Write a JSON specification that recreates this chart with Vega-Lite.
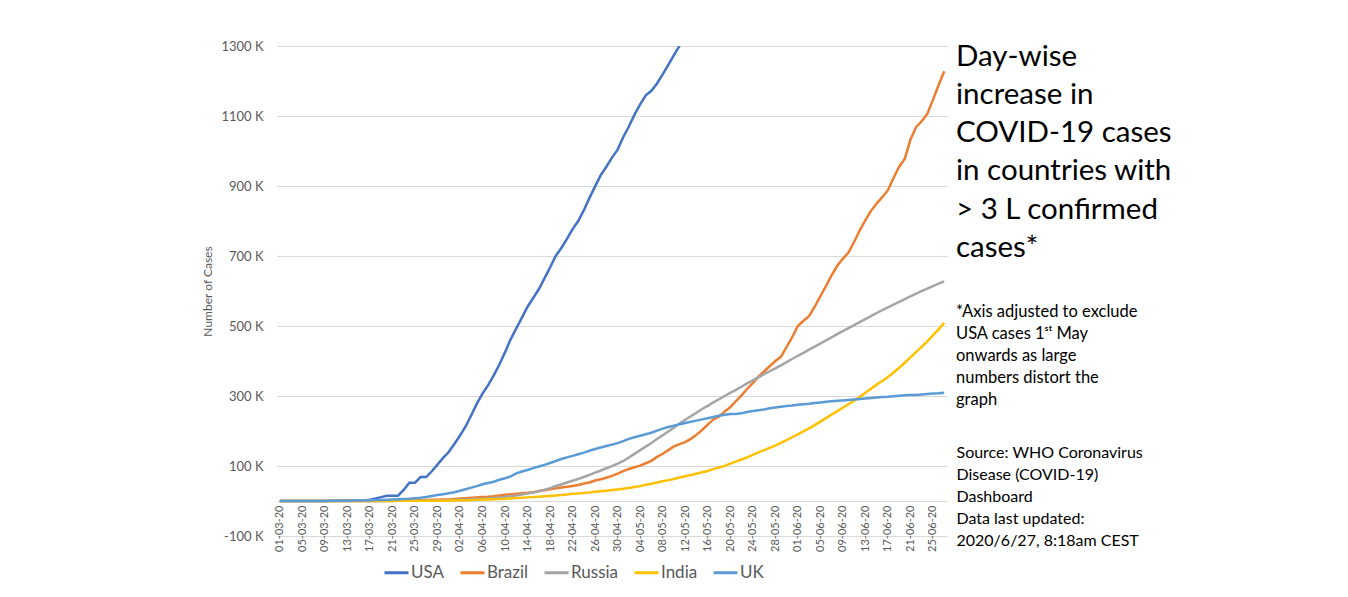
{
  "$schema": "https://vega.github.io/schema/vega-lite/v6.json",
  "autosize": {"type": "none"},
  "width": 670,
  "height": 490,
  "padding": {"left": 277, "top": 46, "right": 401, "bottom": 61},
  "background": "white",
  "config": {
    "view": {"stroke": null},
    "font": "Lato",
    "axis": {"labelFont": "Lato", "titleFont": "Lato"},
    "legend": {"labelFont": "Lato"},
    "title": {"font": "Lato", "subtitleFont": "Lato"}
  },
  "title": {
    "text": ["Day-wise", "increase in", "COVID-19 cases", "in countries with", "> 3 L confirmed", "cases*"],
    "subtitle": ["*Axis adjusted to exclude", "USA cases 1ˢᵗ May", "onwards as  large", "numbers distort the", "graph"],
    "orient": "top",
    "anchor": "start",
    "frame": "group",
    "dx": 679,
    "dy": 373,
    "fontSize": 29.5,
    "fontWeight": "normal",
    "color": "#000000",
    "lineHeight": 38.3,
    "subtitleFontSize": 16.5,
    "subtitleLineHeight": 22,
    "subtitleColor": "#000000",
    "subtitlePadding": 40
  },
  "data": {
    "values": [
      {"d":"01-03-20","USA":0.07,"Brazil":0,"Russia":0,"India":0.003,"UK":0.04},
      {"d":"02-03-20","USA":0.07,"Brazil":0,"Russia":0,"India":0.005,"UK":0.04},
      {"d":"03-03-20","USA":0.07,"Brazil":0,"Russia":0,"India":0.005,"UK":0.05},
      {"d":"04-03-20","USA":0.1,"Brazil":0,"Russia":0,"India":0.028,"UK":0.09},
      {"d":"05-03-20","USA":0.13,"Brazil":0,"Russia":0,"India":0.03,"UK":0.12},
      {"d":"06-03-20","USA":0.15,"Brazil":0.01,"Russia":0,"India":0.03,"UK":0.16},
      {"d":"07-03-20","USA":0.21,"Brazil":0.01,"Russia":0,"India":0.031,"UK":0.21},
      {"d":"08-03-20","USA":0.21,"Brazil":0.01,"Russia":0,"India":0.034,"UK":0.27},
      {"d":"09-03-20","USA":0.21,"Brazil":0.02,"Russia":0.01,"India":0.039,"UK":0.32},
      {"d":"10-03-20","USA":0.47,"Brazil":0.03,"Russia":0.01,"India":0.043,"UK":0.38},
      {"d":"11-03-20","USA":0.7,"Brazil":0.03,"Russia":0.02,"India":0.056,"UK":0.46},
      {"d":"12-03-20","USA":1.0,"Brazil":0.05,"Russia":0.03,"India":0.062,"UK":0.6},
      {"d":"13-03-20","USA":1.3,"Brazil":0.08,"Russia":0.03,"India":0.073,"UK":0.8},
      {"d":"14-03-20","USA":1.7,"Brazil":0.1,"Russia":0.05,"India":0.082,"UK":1.1},
      {"d":"15-03-20","USA":1.7,"Brazil":0.12,"Russia":0.06,"India":0.1,"UK":1.1},
      {"d":"16-03-20","USA":1.7,"Brazil":0.2,"Russia":0.09,"India":0.11,"UK":1.4},
      {"d":"17-03-20","USA":3.5,"Brazil":0.23,"Russia":0.11,"India":0.125,"UK":1.9},
      {"d":"18-03-20","USA":7,"Brazil":0.29,"Russia":0.15,"India":0.137,"UK":2.6},
      {"d":"19-03-20","USA":11,"Brazil":0.43,"Russia":0.2,"India":0.173,"UK":2.6},
      {"d":"20-03-20","USA":15.2,"Brazil":0.62,"Russia":0.25,"India":0.223,"UK":3.3},
      {"d":"21-03-20","USA":15.2,"Brazil":0.9,"Russia":0.31,"India":0.283,"UK":4.0},
      {"d":"22-03-20","USA":15.2,"Brazil":1.1,"Russia":0.37,"India":0.36,"UK":5.0},
      {"d":"23-03-20","USA":31.6,"Brazil":1.5,"Russia":0.44,"India":0.415,"UK":5.7},
      {"d":"24-03-20","USA":52,"Brazil":1.9,"Russia":0.5,"India":0.468,"UK":6.7},
      {"d":"25-03-20","USA":52,"Brazil":2.2,"Russia":0.66,"India":0.536,"UK":8.1},
      {"d":"26-03-20","USA":68.5,"Brazil":2.4,"Russia":0.84,"India":0.657,"UK":9.5},
      {"d":"27-03-20","USA":68.5,"Brazil":2.9,"Russia":1.04,"India":0.727,"UK":11.7},
      {"d":"28-03-20","USA":85,"Brazil":3.4,"Russia":1.26,"India":0.887,"UK":14.5},
      {"d":"29-03-20","USA":104,"Brazil":3.9,"Russia":1.53,"India":0.987,"UK":17.1},
      {"d":"30-03-20","USA":123,"Brazil":4.3,"Russia":1.84,"India":1.024,"UK":19.5},
      {"d":"31-03-20","USA":140,"Brazil":4.6,"Russia":2.34,"India":1.251,"UK":22.1},
      {"d":"01-04-20","USA":163,"Brazil":5.7,"Russia":2.78,"India":1.397,"UK":25.2},
      {"d":"02-04-20","USA":187,"Brazil":6.8,"Russia":3.55,"India":1.965,"UK":29.5},
      {"d":"03-04-20","USA":213,"Brazil":7.9,"Russia":4.15,"India":2.301,"UK":33.7},
      {"d":"04-04-20","USA":245,"Brazil":9.1,"Russia":4.73,"India":2.902,"UK":38.2},
      {"d":"05-04-20","USA":278,"Brazil":10.3,"Russia":5.39,"India":3.374,"UK":42.5},
      {"d":"06-04-20","USA":307,"Brazil":11.1,"Russia":6.34,"India":4.067,"UK":47.8},
      {"d":"07-04-20","USA":331,"Brazil":12.0,"Russia":7.5,"India":4.421,"UK":51.6},
      {"d":"08-04-20","USA":359,"Brazil":13.7,"Russia":8.67,"India":5.194,"UK":55.2},
      {"d":"09-04-20","USA":390,"Brazil":15.9,"Russia":10.1,"India":5.734,"UK":60.7},
      {"d":"10-04-20","USA":425,"Brazil":17.9,"Russia":11.9,"India":6.412,"UK":65.1},
      {"d":"11-04-20","USA":462,"Brazil":19.6,"Russia":13.6,"India":7.447,"UK":70.3},
      {"d":"12-04-20","USA":493,"Brazil":20.7,"Russia":15.8,"India":8.356,"UK":78.9},
      {"d":"13-04-20","USA":524,"Brazil":22.2,"Russia":18.3,"India":9.152,"UK":84.3},
      {"d":"14-04-20","USA":555,"Brazil":23.4,"Russia":21.1,"India":10.363,"UK":88.6},
      {"d":"15-04-20","USA":580,"Brazil":25.3,"Russia":24.5,"India":11.439,"UK":93.9},
      {"d":"16-04-20","USA":605,"Brazil":28.3,"Russia":27.9,"India":12.38,"UK":98.5},
      {"d":"17-04-20","USA":636,"Brazil":30.4,"Russia":32.0,"India":13.387,"UK":103.1},
      {"d":"18-04-20","USA":667,"Brazil":33.7,"Russia":36.8,"India":14.378,"UK":108.7},
      {"d":"19-04-20","USA":700,"Brazil":36.6,"Russia":42.9,"India":15.712,"UK":114.2},
      {"d":"20-04-20","USA":723,"Brazil":38.6,"Russia":47.1,"India":17.265,"UK":120.1},
      {"d":"21-04-20","USA":749,"Brazil":40.6,"Russia":52.8,"India":18.6,"UK":124.7},
      {"d":"22-04-20","USA":777,"Brazil":43.1,"Russia":57.9,"India":20.471,"UK":129.0},
      {"d":"23-04-20","USA":800,"Brazil":45.8,"Russia":62.8,"India":21.7,"UK":133.5},
      {"d":"24-04-20","USA":831,"Brazil":50.0,"Russia":68.6,"India":23.077,"UK":138.1},
      {"d":"25-04-20","USA":866,"Brazil":52.9,"Russia":74.6,"India":24.506,"UK":143.5},
      {"d":"26-04-20","USA":899,"Brazil":58.5,"Russia":80.9,"India":26.496,"UK":148.4},
      {"d":"27-04-20","USA":931,"Brazil":61.9,"Russia":87.1,"India":27.892,"UK":152.8},
      {"d":"28-04-20","USA":955,"Brazil":66.5,"Russia":93.6,"India":29.435,"UK":157.1},
      {"d":"29-04-20","USA":981,"Brazil":71.9,"Russia":99.4,"India":31.332,"UK":161.1},
      {"d":"30-04-20","USA":1004,"Brazil":78.2,"Russia":106.5,"India":33.05,"UK":165.2},
      {"d":"01-05-20","USA":1040,"Brazil":85.4,"Russia":114.4,"India":35.043,"UK":171.3},
      {"d":"02-05-20","USA":1070,"Brazil":91.6,"Russia":124.1,"India":37.336,"UK":177.5},
      {"d":"03-05-20","USA":1104,"Brazil":96.6,"Russia":134.7,"India":39.98,"UK":182.3},
      {"d":"04-05-20","USA":1133,"Brazil":101.1,"Russia":145.3,"India":42.533,"UK":186.6},
      {"d":"05-05-20","USA":1159,"Brazil":107.8,"Russia":155.4,"India":46.433,"UK":190.6},
      {"d":"06-05-20","USA":1172,"Brazil":114.7,"Russia":165.9,"India":49.391,"UK":194.9},
      {"d":"07-05-20","USA":1193,"Brazil":126.0,"Russia":177.2,"India":52.952,"UK":201.1},
      {"d":"08-05-20","USA":1219,"Brazil":135.1,"Russia":187.9,"India":56.342,"UK":206.7},
      {"d":"09-05-20","USA":1246,"Brazil":145.3,"Russia":198.7,"India":59.662,"UK":211.4},
      {"d":"10-05-20","USA":1274,"Brazil":155.9,"Russia":209.7,"India":62.939,"UK":215.3},
      {"d":"11-05-20","USA":1301,"Brazil":162.7,"Russia":221.3,"India":67.152,"UK":219.2},
      {"d":"12-05-20","USA":1323,"Brazil":168.3,"Russia":232.2,"India":70.756,"UK":223.1},
      {"d":"13-05-20","USA":1347,"Brazil":177.6,"Russia":242.3,"India":74.281,"UK":226.5},
      {"d":"14-05-20","Brazil":188.9,"Russia":252.2,"India":78.003,"UK":229.7},
      {"d":"15-05-20","Brazil":202.9,"Russia":262.8,"India":81.97,"UK":233.2},
      {"d":"16-05-20","Brazil":218.2,"Russia":272.0,"India":85.94,"UK":236.7},
      {"d":"17-05-20","Brazil":233.1,"Russia":281.8,"India":90.927,"UK":240.2},
      {"d":"18-05-20","Brazil":241.1,"Russia":290.7,"India":95.698,"UK":243.3},
      {"d":"19-05-20","Brazil":255.4,"Russia":299.9,"India":100.328,"UK":246.4},
      {"d":"20-05-20","Brazil":268,"Russia":308.7,"India":106.75,"UK":248.8},
      {"d":"21-05-20","Brazil":285,"Russia":317.6,"India":112.359,"UK":248.3},
      {"d":"22-05-20","Brazil":302,"Russia":326.4,"India":118.447,"UK":250.9},
      {"d":"23-05-20","Brazil":320,"Russia":335.9,"India":124.794,"UK":254.2},
      {"d":"24-05-20","Brazil":337,"Russia":344.5,"India":131.868,"UK":257.2},
      {"d":"25-05-20","Brazil":355,"Russia":353.4,"India":138.845,"UK":259.6},
      {"d":"26-05-20","Brazil":370,"Russia":362.3,"India":145.38,"UK":261.2},
      {"d":"27-05-20","Brazil":385,"Russia":370.7,"India":151.767,"UK":265.2},
      {"d":"28-05-20","Brazil":400,"Russia":379.1,"India":158.333,"UK":267.2},
      {"d":"29-05-20","Brazil":412,"Russia":387.6,"India":165.799,"UK":269.1},
      {"d":"30-05-20","Brazil":440,"Russia":396.6,"India":173.763,"UK":271.2},
      {"d":"31-05-20","Brazil":468,"Russia":405.8,"India":182.143,"UK":272.8},
      {"d":"01-06-20","Brazil":500,"Russia":414.9,"India":190.535,"UK":274.8},
      {"d":"02-06-20","Brazil":515,"Russia":423.2,"India":198.706,"UK":276.3},
      {"d":"03-06-20","Brazil":528,"Russia":432.3,"India":207.615,"UK":277.9},
      {"d":"04-06-20","Brazil":555,"Russia":441.1,"India":216.919,"UK":279.9},
      {"d":"05-06-20","Brazil":585,"Russia":449.8,"India":226.77,"UK":281.7},
      {"d":"06-06-20","Brazil":614,"Russia":458.7,"India":236.657,"UK":283.3},
      {"d":"07-06-20","Brazil":645,"Russia":467.7,"India":246.628,"UK":284.9},
      {"d":"08-06-20","Brazil":672,"Russia":476.7,"India":256.611,"UK":286.2},
      {"d":"09-06-20","Brazil":692,"Russia":485.3,"India":266.598,"UK":287.4},
      {"d":"10-06-20","Brazil":710,"Russia":493.7,"India":276.583,"UK":288.8},
      {"d":"11-06-20","Brazil":740,"Russia":502.4,"India":286.579,"UK":290.1},
      {"d":"12-06-20","Brazil":773,"Russia":511.0,"India":297.535,"UK":291.4},
      {"d":"13-06-20","Brazil":802,"Russia":519.5,"India":308.993,"UK":292.9},
      {"d":"14-06-20","Brazil":829,"Russia":528.3,"India":320.922,"UK":294.4},
      {"d":"15-06-20","Brazil":850,"Russia":537.2,"India":332.424,"UK":295.9},
      {"d":"16-06-20","Brazil":868,"Russia":545.5,"India":343.091,"UK":296.9},
      {"d":"17-06-20","Brazil":888,"Russia":553.3,"India":354.065,"UK":297.9},
      {"d":"18-06-20","Brazil":923,"Russia":561.1,"India":366.946,"UK":299.3},
      {"d":"19-06-20","Brazil":955,"Russia":569.1,"India":380.532,"UK":300.5},
      {"d":"20-06-20","Brazil":978,"Russia":576.9,"India":395.048,"UK":301.8},
      {"d":"21-06-20","Brazil":1032,"Russia":584.7,"India":410.461,"UK":302.6},
      {"d":"22-06-20","Brazil":1068,"Russia":592.3,"India":425.282,"UK":303.1},
      {"d":"23-06-20","Brazil":1085,"Russia":599.7,"India":440.215,"UK":304.3},
      {"d":"24-06-20","Brazil":1106,"Russia":606.9,"India":456.183,"UK":305.8},
      {"d":"25-06-20","Brazil":1146,"Russia":613.9,"India":473.105,"UK":306.9},
      {"d":"26-06-20","Brazil":1188,"Russia":620.8,"India":490.401,"UK":307.9},
      {"d":"27-06-20","Brazil":1228,"Russia":627.6,"India":508.953,"UK":309.4}
    ]
  },
  "transform": [
    {"fold": ["USA", "Brazil", "Russia", "India", "UK"], "as": ["country", "k"]}
  ],
  "mark": {"type": "line", "strokeWidth": 2.5, "clip": true},
  "encoding": {
    "x": {
      "field": "d",
      "type": "ordinal",
      "sort": null,
      "scale": {"type": "point", "padding": 0.5},
      "axis": {
        "title": ["Source: WHO Coronavirus", "Disease (COVID-19)", "Dashboard", "Data last updated:", "2020/6/27, 8:18am CEST"],
        "titleAngle": 0,
        "titleAlign": "left",
        "titleBaseline": "alphabetic",
        "titleX": 679,
        "titleY": -44,
        "titleFontSize": 16,
        "titleFontWeight": "normal",
        "titleColor": "#000000",
        "titleLineHeight": 22,
        "offset": -35,
        "values": ["01-03-20","05-03-20","09-03-20","13-03-20","17-03-20","21-03-20","25-03-20","29-03-20","02-04-20","06-04-20","10-04-20","14-04-20","18-04-20","22-04-20","26-04-20","30-04-20","04-05-20","08-05-20","12-05-20","16-05-20","20-05-20","24-05-20","28-05-20","01-06-20","05-06-20","09-06-20","13-06-20","17-06-20","21-06-20","25-06-20"],
        "labelAngle": -90,
        "labelFontSize": 11,
        "labelColor": "#595959",
        "labelPadding": 4,
        "ticks": false,
        "domainColor": "#d9d9d9",
        "domainWidth": 1,
        "grid": false
      }
    },
    "y": {
      "field": "k",
      "type": "quantitative",
      "scale": {"domain": [-100, 1300], "nice": false, "zero": false},
      "axis": {
        "title": "Number of Cases",
        "titleFontSize": 12,
        "titleFontWeight": "normal",
        "titleColor": "#595959",
        "titlePadding": 6,
        "values": [-100, 100, 300, 500, 700, 900, 1100, 1300],
        "labelExpr": "datum.value + ' K'",
        "labelFontSize": 13,
        "labelColor": "#595959",
        "labelPadding": 14,
        "ticks": false,
        "domain": false,
        "grid": true,
        "gridColor": "#d9d9d9",
        "gridWidth": 1
      }
    },
    "color": {
      "field": "country",
      "type": "nominal",
      "scale": {
        "domain": ["USA", "Brazil", "Russia", "India", "UK"],
        "range": ["#4472C4", "#ED7D31", "#A5A5A5", "#FFC000", "#5B9BD5"]
      },
      "legend": {
        "title": null,
        "orient": "none",
        "legendX": 106,
        "legendY": 513,
        "direction": "horizontal",
        "symbolType": "stroke",
        "symbolSize": 576,
        "symbolStrokeWidth": 3,
        "labelFontSize": 17,
        "labelColor": "#595959",
        "labelOffset": 1,
        "columnPadding": 9
      }
    }
  }
}
